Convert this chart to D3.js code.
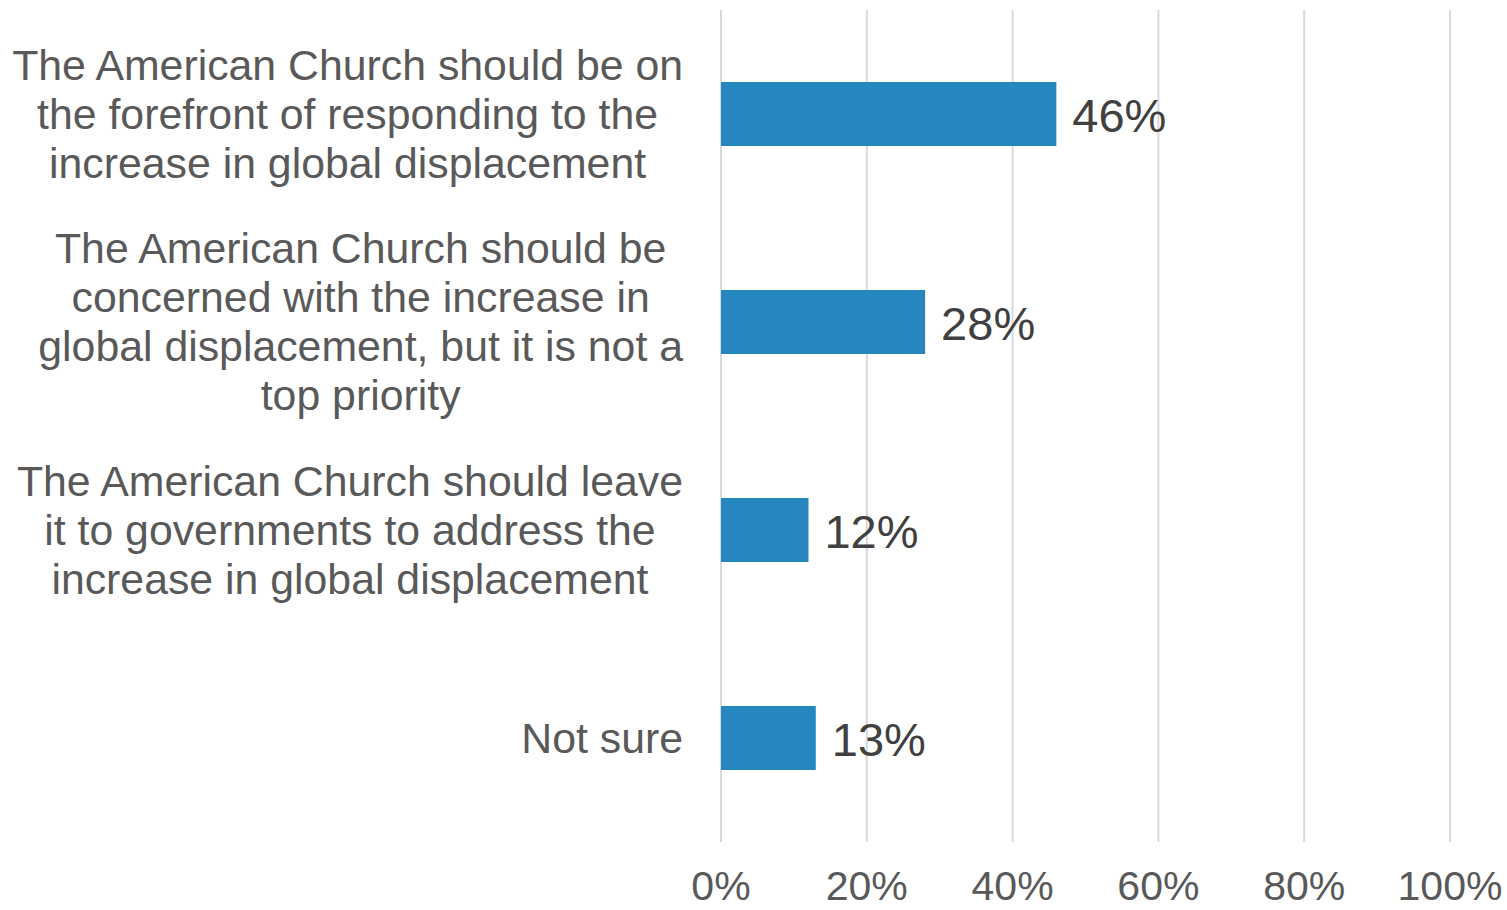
<!DOCTYPE html>
<html><head><meta charset="utf-8">
<script src="https://cdn.jsdelivr.net/npm/d3@7"></script>
<style>html,body{margin:0;padding:0;background:#fff;}svg{display:block;}</style>
</head><body>
<svg id="chart" width="1507" height="910"></svg>
<script>
const categories = [
  ["The American Church should be on", "the forefront of responding to the", "increase in global displacement"],
  ["The American Church should be", "concerned with the increase in", "global displacement, but it is not a", "top priority"],
  ["The American Church should leave", "it to governments to address the", "increase in global displacement"],
  ["Not sure"]
];
const values = [46, 28, 12, 13];
const ticks = [0, 20, 40, 60, 80, 100];

const svg = d3.select("#chart");
const font = "'Liberation Sans', Arial, sans-serif";
const x = d3.scaleLinear().domain([0, 100]).range([721, 1450]);
const y = d3.scaleBand().domain(d3.range(values.length)).range([10, 842])
  .paddingInner(0.6923).paddingOuter(0.3462);

// gridlines
svg.append("g").selectAll("line").data(ticks).join("line")
  .attr("x1", d => x(d)).attr("x2", d => x(d))
  .attr("y1", 10).attr("y2", 842)
  .attr("stroke", "#d9d9d9").attr("stroke-width", 2);

// x axis tick labels
svg.append("g").selectAll("text").data(ticks).join("text")
  .attr("x", d => x(d)).attr("y", 900)
  .attr("text-anchor", "middle")
  .attr("font-family", font).attr("font-size", 41).attr("fill", "#595959")
  .text(d => d + "%");

// bars
svg.append("g").selectAll("rect").data(values).join("rect")
  .attr("x", x(0)).attr("y", (d, i) => y(i))
  .attr("width", d => x(d) - x(0)).attr("height", y.bandwidth())
  .attr("fill", "#2686bf");

// value labels
svg.append("g").selectAll("text").data(values).join("text")
  .attr("x", d => x(d) + 16).attr("y", (d, i) => y(i) + y.bandwidth() / 2)
  .attr("dy", "0.38em")
  .attr("font-family", font).attr("font-size", 47).attr("fill", "#404040")
  .text(d => d + "%");

// category labels
const lineH = 49;
const rightEdge = 683;
categories.forEach((lines, i) => {
  const g = svg.append("g");
  const cy = y(i) + y.bandwidth() / 2;
  const texts = lines.map((l, j) => g.append("text")
    .attr("y", cy + (j - (lines.length - 1) / 2) * lineH)
    .attr("dy", "0.35em")
    .attr("text-anchor", "middle")
    .attr("font-family", font).attr("font-size", 42.8).attr("fill", "#595959")
    .text(l));
  const W = d3.max(texts, t => t.node().getComputedTextLength());
  texts.forEach(t => t.attr("x", rightEdge - W / 2));
});
</script>
</body></html>
